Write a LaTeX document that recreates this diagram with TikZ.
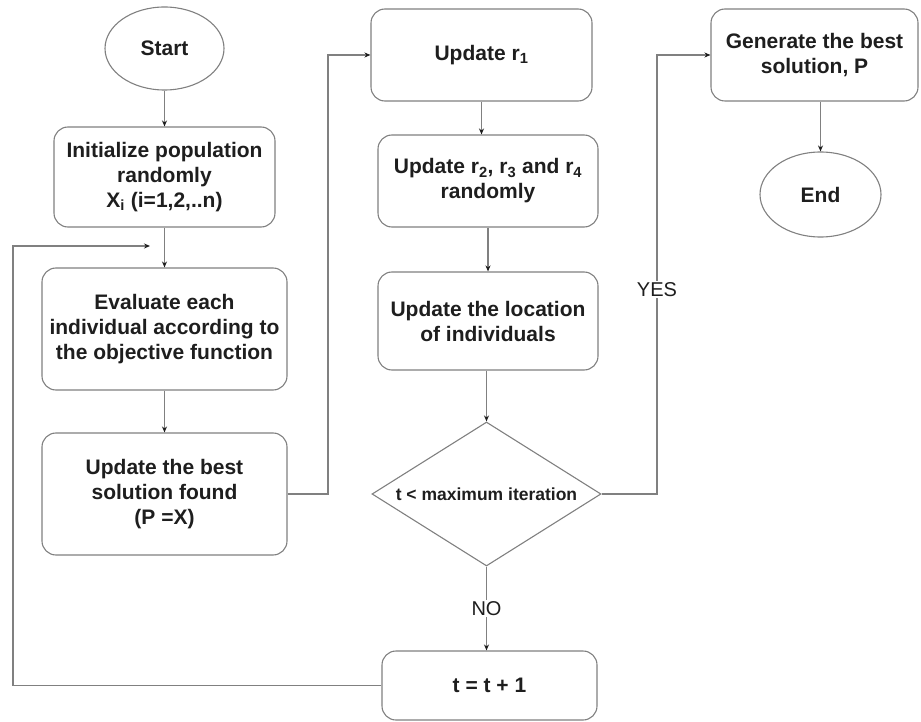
\documentclass[tikz,border=0pt]{standalone}
\usepackage{fontspec}
\setmainfont{Liberation Sans}
\usetikzlibrary{shapes.geometric,arrows.meta}
\definecolor{edge}{HTML}{808080}
\definecolor{ink}{HTML}{1E1E1E}
\begin{document}
\begin{tikzpicture}[x=1pt,y=-1pt,
  every node/.style={text=ink},
  procbox/.style={draw=edge,line width=1.1pt,rounded corners=14pt,align=center,
    font=\fontsize{21}{25}\selectfont\bfseries,inner sep=0pt},
  termbox/.style={draw=edge,line width=1.1pt,ellipse,inner sep=0pt,
    font=\fontsize{21}{25}\selectfont\bfseries},
  decbox/.style={draw=edge,line width=1.1pt,diamond,aspect=1.59,inner sep=0pt,
    font=\fontsize{17.5}{21}\selectfont\bfseries},
  flow/.style={draw=edge,line width=1.1pt,-{Stealth[length=6pt,width=5pt,color=ink]}},
  link/.style={draw=edge,line width=1.1pt},
  tag/.style={fill=white,inner sep=1pt,font=\fontsize{20}{24}\selectfont}]
\useasboundingbox (0,0) rectangle (921,722);

% terminals
\node[termbox,minimum width=119pt,minimum height=83pt] (start) at (164.5,48.5) {Start};
\node[termbox,minimum width=121pt,minimum height=85pt] (end) at (820.5,194.5) {End};

% left column
\node[procbox,minimum width=221pt,minimum height=100pt] (init) at (164.5,177)
  {Initialize population\\randomly\\X\textsubscript{i} (i=1,2,..n)};
\node[procbox,minimum width=245pt,minimum height=122pt] (eval) at (164.5,329)
  {Evaluate each\\individual according to\\the objective function};
\node[procbox,minimum width=245pt,minimum height=122pt] (best) at (164.5,494)
  {Update the best\\solution found\\(P =X)};

% middle column
\node[procbox,minimum width=221pt,minimum height=92pt] (upone) at (481.5,55)
  {Update r\textsubscript{1}};
\node[procbox,minimum width=220pt,minimum height=92pt] (uprest) at (488,181)
  {Update r\textsubscript{2}, r\textsubscript{3} and r\textsubscript{4}\\randomly};
\node[procbox,minimum width=220pt,minimum height=98pt] (loc) at (488,321)
  {Update the location\\of individuals};
\node[decbox,minimum width=229pt,minimum height=144pt] (cond) at (486.5,494)
  {t < maximum iteration};
\node[procbox,minimum width=215pt,minimum height=69pt] (incr) at (489.5,685.5)
  {t = t + 1};

% right column
\node[procbox,minimum width=207pt,minimum height=92pt] (gen) at (814.5,55)
  {Generate the best\\solution, P};

% junction points of the loop-back path
\coordinate (join) at (150,246);
\coordinate (loopL) at (13,685.5);
\coordinate (bestR) at (328,494);
\coordinate (yesR) at (657,494);

% connectors
\draw[flow] (start) -- (init);
\draw[link] (init.south) -- (eval.north);
\draw[flow] (init.south |- join) -- (eval.north);
\draw[flow] (eval) -- (best);
\draw[flow] (best.east) -- (bestR) |- (upone.west);
\draw[flow] ([xshift=-6.5pt]uprest.north |- upone.south) -- ([xshift=-6.5pt]uprest.north);
\draw[flow] (uprest.south) -- (uprest.south |- loc.north);
\draw[flow] (loc.south -| cond.north) -- (cond.north);
\draw[flow] (cond.south) -- node[tag,pos=0.5]{NO} (cond.south |- incr.north);
\draw[flow] (cond.east) -- (yesR) |- node[tag,pos=0.233]{YES} (gen.west);
\draw[flow] (gen.south -| end.north) -- (end.north);
\draw[flow] (incr.west) -- (loopL) -- (loopL |- join) -- (join);
\end{tikzpicture}
\end{document}
